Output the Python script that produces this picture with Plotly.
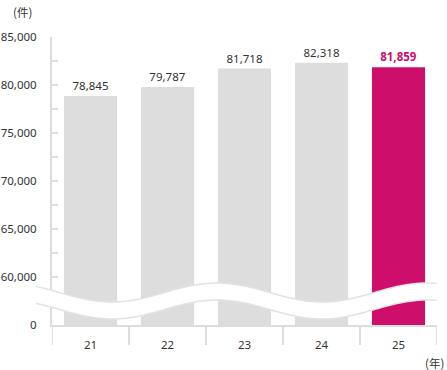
import math
import plotly.graph_objects as go

# ---- data ----
years = ["21", "22", "23", "24", "25"]
cases = [78845, 79787, 81718, 82318, 81859]
y_tick_values = [55000, 57500, 60000, 62500, 65000, 67500, 70000, 72500, 75000, 77500, 80000, 82500, 85000]
y_tick_labels = ["0", "", "60,000", "", "65,000", "", "70,000", "", "75,000", "", "80,000", "", "85,000"]
unit_y = "(件)"
unit_x = "(年)"

GRAY = "#dddddd"
MAGENTA = "#cd0f6b"
TEXT = "#333333"
FONT = "Noto Sans, Noto Sans CJK JP, sans-serif"
FS = 11.5

W, H = 447, 370
L, R, T, B = 52, 10, 37, 45
pw, ph = W - L - R, H - T - B

bar_colors = [GRAY] * (len(years) - 1) + [MAGENTA]
label_colors = [TEXT] * (len(years) - 1) + [MAGENTA]
labels = [f"{v:,}" for v in cases]
last = len(years) - 1
labels[last] = f"<b>{cases[last]:,}</b>"

fig = go.Figure()
fig.add_trace(go.Bar(
    x=years, y=cases,
    marker=dict(color=bar_colors, line=dict(width=0)),
    text=labels, textposition="outside", cliponaxis=False,
    textfont=dict(color=label_colors, size=FS, family=FONT),
    hoverinfo="skip",
))

# ---- axis-break wave (decoration), in window pixel coords ----
def px(x):
    return (x - L) / pw

def py(y):
    return (T + ph - y) / ph

xs = [36 + i * 2 for i in range(0, 202)]
xs = [x for x in xs if x <= 437] + [437]
up = [292.5 - 9.5 * math.cos(2 * math.pi * (x - 217) / 210) for x in xs]
lo = [u + 17 for u in up]

band = "M " + " L ".join(f"{px(x):.5f},{py(y):.5f}" for x, y in zip(xs, up))
band += " L " + " L ".join(f"{px(x):.5f},{py(y):.5f}" for x, y in zip(reversed(xs), reversed(lo))) + " Z"
line_up = "M " + " L ".join(f"{px(x):.5f},{py(y):.5f}" for x, y in zip(xs, up))
line_lo = "M " + " L ".join(f"{px(x):.5f},{py(y):.5f}" for x, y in zip(xs, lo))

shapes = [
    dict(type="path", path=band, xref="paper", yref="paper", fillcolor="white",
         line=dict(width=0), layer="above"),
    dict(type="path", path=line_up, xref="paper", yref="paper",
         line=dict(color="#e2e2e2", width=1.5), layer="above"),
    dict(type="path", path=line_lo, xref="paper", yref="paper",
         line=dict(color="#e2e2e2", width=1.5), layer="above"),
]
# category separators below the x axis
for i in range(len(years) + 1):
    shapes.append(dict(type="line", xref="x", yref="paper",
                       x0=i - 0.5, x1=i - 0.5, y0=0, y1=-20 / ph,
                       line=dict(color=GRAY, width=2), layer="below"))

fig.update_layout(
    width=W, height=H,
    margin=dict(l=L, r=R, t=T, b=B, autoexpand=False),
    paper_bgcolor="white", plot_bgcolor="white",
    showlegend=False, bargap=0.31,
    font=dict(family=FONT, size=FS, color=TEXT),
    shapes=shapes,
    annotations=[
        dict(text=unit_y, xref="paper", yref="paper", x=px(22), y=py(12),
             showarrow=False, xanchor="center", yanchor="middle",
             font=dict(size=FS, color=TEXT, family="Noto Sans CJK JP")),
        dict(text=unit_x, xref="paper", yref="paper", x=px(446), y=py(363),
             showarrow=False, xanchor="right", yanchor="middle",
             font=dict(size=FS, color=TEXT, family="Noto Sans CJK JP")),
    ],
)
fig.update_xaxes(
    type="category", showline=True, linecolor=GRAY, linewidth=2,
    showgrid=False, zeroline=False, ticks="outside", ticklen=8, tickcolor="rgba(0,0,0,0)",
    tickfont=dict(size=FS, color=TEXT), range=[-0.5, len(years) - 0.5],
)
fig.update_yaxes(
    range=[55000, 85000], tickmode="array", tickvals=y_tick_values, ticktext=y_tick_labels,
    showline=True, linecolor=GRAY, linewidth=2, showgrid=False, zeroline=False,
    ticks="inside", ticklen=6, tickwidth=2, tickcolor=GRAY,
    tickfont=dict(size=FS, color=TEXT), ticklabelstandoff=11,
)

fig.write_html("out.html", config={"displayModeBar": False},
               post_script="document.body.style.margin='0';")
